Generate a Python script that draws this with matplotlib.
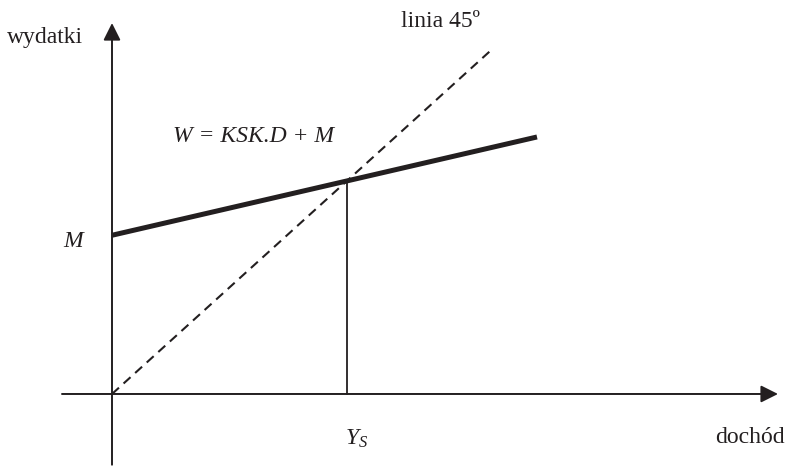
import matplotlib
matplotlib.use('Agg')
import matplotlib.pyplot as plt

plt.rcParams['font.family'] = ['Liberation Serif', 'DejaVu Serif']
plt.rcParams['mathtext.fontset'] = 'custom'
plt.rcParams['mathtext.it'] = 'Liberation Serif:italic'
plt.rcParams['mathtext.rm'] = 'Liberation Serif'

# model values (arbitrary units)
M = 175.0          # autonomous spending
KSK = 0.255        # marginal propensity to consume
x_line = [0, 425]  # range of spending line
x_diag = [0, 378]  # range of 45 degree line
Ys = M / (1 - KSK)

W = [KSK * x + M for x in x_line]
diag = list(x_diag)

ink = '#231f20'
fig = plt.figure(figsize=(7.86, 4.66), dpi=100)
ax = fig.add_axes([0, 0, 1, 1])
ax.set_xlim(-112, 674)
ax.set_ylim(-79.4, 434.4)
ax.axis('off')

# axes with arrow heads
head = '-|>,head_length=0.4,head_width=0.2'
ax.annotate('', xy=(666, 0), xytext=(-50, 0),
            arrowprops=dict(arrowstyle=head, mutation_scale=26, lw=1.4, color=ink,
                            shrinkA=0, shrinkB=0))
ax.annotate('', xy=(0, 409), xytext=(0, -78),
            arrowprops=dict(arrowstyle=head, mutation_scale=26, lw=1.4, color=ink,
                            shrinkA=0, shrinkB=0))

ax.plot(x_diag, diag, color=ink, lw=1.5, ls=(0, (4.5, 3)))
ax.plot(x_line, W, color=ink, lw=3.6, solid_capstyle='butt')
ax.plot([Ys, Ys], [0, Ys], color=ink, lw=1.3)


def ftxt(px, py, s, **kw):
    fig.text(px / 786, 1 - py / 466, s, color=ink, fontsize=17, va='baseline', **kw)


ftxt(7, 43, 'wydatki')
ftxt(401, 27, 'linia 45º')
ftxt(173, 142, 'W = KSK.D + M', style='italic')
ftxt(63, 247, 'M', style='italic')
ftxt(345, 445, r'$Y_S$')
ftxt(715, 443, 'dochód')

fig.savefig('out.png', dpi=100)
